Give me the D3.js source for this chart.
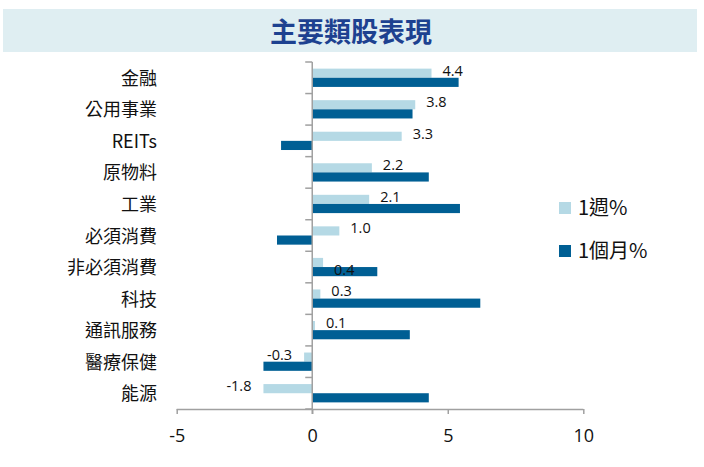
<!DOCTYPE html>
<html><head><meta charset="utf-8">
<script src="https://cdn.jsdelivr.net/npm/d3@7"></script>
<style>body{margin:0;background:#fff;}svg{display:block;font-family:"Noto Sans CJK TC","Noto Sans",sans-serif;}</style>
</head><body>
<svg id="c" width="704" height="467"></svg>
<script>
const title = "主要類股表現";
const categories = ["金融","公用事業","REITs","原物料","工業","必須消費","非必須消費","科技","通訊服務","醫療保健","能源"];
const seriesNames = ["1週%","1個月%"];
const week = [4.4,3.8,3.3,2.2,2.1,1.0,0.4,0.3,0.1,-0.3,-1.8];
const month = [5.4,3.7,-1.15,4.3,5.45,-1.3,2.4,6.2,3.6,-1.8,4.3];
const xTicks = [-5,0,5,10];
const colors = ["#b5d9e5","#005f94"];

const svg = d3.select("#c");
svg.append("rect").attr("x",3).attr("y",9).attr("width",694).attr("height",43).attr("fill","#dfeef2");
svg.append("text").attr("x",351).attr("y",42).attr("text-anchor","middle")
  .attr("font-size",27).attr("font-weight","bold").attr("fill","#1d4190").text(title);

const x = d3.scaleLinear().domain([-5,10]).range([176.7,583.3]);
const y = d3.scaleBand().domain(categories).range([62,409]).paddingInner(0.42).paddingOuter(0.21);
const sub = d3.scaleBand().domain([0,1]).range([0,y.bandwidth()]);
const fmt = v => (v<0?"-":"") + d3.format(".1f")(Math.abs(v));

const data = categories.map((c,i)=>({c, vals:[week[i],month[i]]}));
const g = svg.append("g");
data.forEach((d,i)=>{
  d.vals.forEach((v,j)=>{
    g.append("rect")
      .attr("x", x(Math.min(0,v)))
      .attr("y", y(d.c)+sub(j))
      .attr("width", Math.abs(x(v)-x(0)))
      .attr("height", sub.bandwidth())
      .attr("fill", colors[j]);
  });
  const v = d.vals[0];
  // the label of 非必須消費 sits lower in the original, over the 1-month bar
  const nudge = d.c === "非必須消費" ? 10 : 0;
  g.append("text")
    .attr("x", v>=0 ? x(v)+11 : x(v)-12)
    .attr("y", y(d.c)+sub(0)+7+nudge)
    .attr("text-anchor", v>=0 ? "start":"end")
    .attr("font-size",14.5).attr("fill","#111").attr("font-family","'Open Sans','Noto Sans',sans-serif")
    .text(fmt(v));
});

// x axis
const xa = svg.append("g").attr("transform","translate(0,409)")
  .call(d3.axisBottom(x).tickValues(xTicks).tickSize(5).tickPadding(15).tickFormat(fmt0));
function fmt0(v){ return (v<0?"-":"") + Math.abs(v); }
xa.select(".domain").attr("stroke","#a0a0a0").attr("stroke-width",1.5).attr("d","M176.7,0.5H583.3");
xa.selectAll(".tick line").attr("stroke","#a0a0a0").attr("stroke-width",1.5);
xa.selectAll(".tick text").attr("font-size",18).attr("fill","#111").attr("font-family","'Open Sans','Noto Sans',sans-serif");

// y axis at zero
const ya = svg.append("g").attr("transform",`translate(${x(0)},0)`);
ya.append("line").attr("x1",0).attr("x2",0).attr("y1",62).attr("y2",414).attr("stroke","#a0a0a0").attr("stroke-width",1.5);
const bounds = categories.map(c=>y(c)-y.step()*y.paddingInner()/2);
bounds.push(409);
bounds.forEach(b=>ya.append("line").attr("x1",-7).attr("x2",0).attr("y1",b).attr("y2",b).attr("stroke","#a0a0a0").attr("stroke-width",1.5));

// category labels
categories.forEach(c=>{
  svg.append("text").attr("x",157).attr("y",y(c)+y.bandwidth()/2+7)
    .attr("text-anchor","end").attr("font-size",18).attr("fill","#111").text(c);
});

// legend
const leg = svg.append("g");
seriesNames.forEach((n,i)=>{
  const ly = 208 + i*43;
  leg.append("rect").attr("x",559).attr("y",ly-6).attr("width",12).attr("height",12).attr("fill",colors[i]);
  leg.append("text").attr("x",578).attr("y",ly+7).attr("font-size",20).attr("fill","#111").text(n);
});
</script>
</body></html>
